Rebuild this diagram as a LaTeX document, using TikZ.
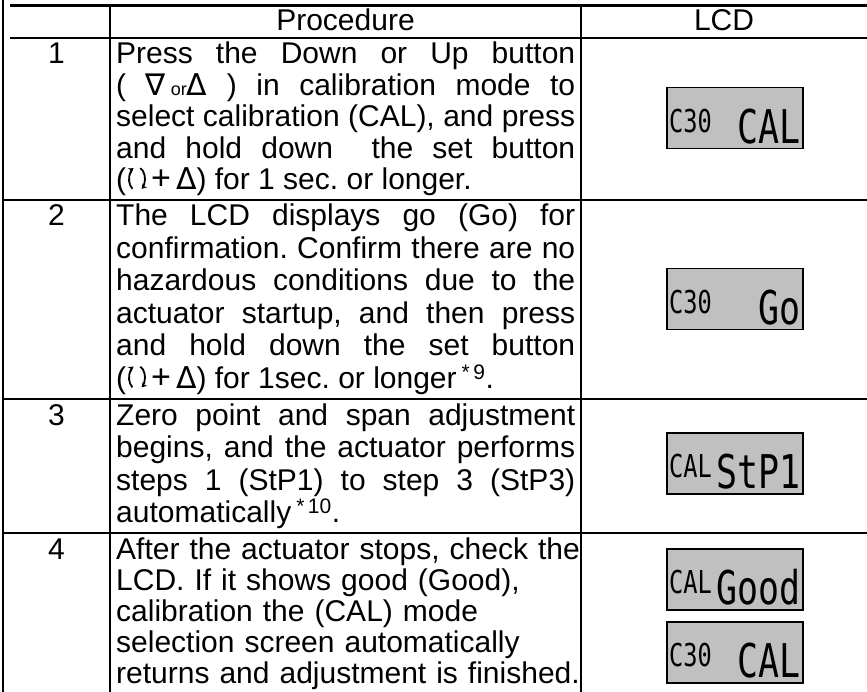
\documentclass[tikz,border=0pt]{standalone}
\usepackage{fontspec}
\setmainfont{Liberation Sans}
\newfontfamily\symfont{DejaVu Sans}
\newfontfamily\lcdfont[FakeStretch=0.75]{DejaVu Sans Mono}
\usepackage{tikz}
\usetikzlibrary{arrows.meta}
\frenchspacing
\definecolor{lcdgray}{RGB}{192,192,192}
\newcommand{\setgap}{\hspace{20pt}}
\newcommand{\updelta}{{\symfont Δ}}
\newcommand{\downnabla}{{\symfont ∇}}
\newcommand{\plusbtn}{\,{\fontsize{34}{30}\selectfont +}\,}
\tikzset{
    rule/.style={draw=black, line width=2.2pt},
    stepno/.style={anchor=base, inner sep=0pt, font=\fontsize{30}{32}\selectfont},
    procedure/.style={anchor=base west, inner sep=0pt, text width=459pt,
        align=justify, font=\fontsize{30}{32}\selectfont},
    lcd/.style={draw=black, line width=1.5pt, fill=lcdgray, anchor=north west,
        minimum width=136pt, minimum height=61pt, inner sep=0pt},
    lcdsmall/.style={anchor=base west, inner sep=0pt,
        font=\lcdfont\fontsize{31.5}{31.5}\selectfont},
    lcdbig/.style={anchor=base east, inner sep=0pt,
        font=\lcdfont\fontsize{46.5}{46.5}\selectfont},
    setbutton/.pic={
        \draw[line width=1.8pt, -{Stealth[length=5pt, width=6pt]}]
          (235:8pt and 12pt) arc[start angle=235, end angle=115, x radius=8pt, y radius=12pt];
        \draw[line width=1.8pt, -{Stealth[length=5pt, width=6pt]}]
          (65:8pt and 12pt) arc[start angle=65, end angle=-55, x radius=8pt, y radius=12pt];
    }
}

\begin{document}
\begin{tikzpicture}[x=1pt, y=-1pt]
\useasboundingbox (0,0) rectangle (867,692);

% table rules
\draw[style={rule}] (3,0) -- (3,692);
\draw[style={rule}] (110,5.5) -- (110,692);
\draw[style={rule}] (581,5.5) -- (581,692);
\draw[style={rule}] (10,5.5) -- (867,5.5);
\draw[style={rule}] (10,38) -- (867,38);
\foreach \y in {200,399,533}
  \draw[style={rule}] (3,\y) -- (867,\y);

% header
\node[style={stepno}] (headproc) at (345.5,31) {Procedure};
\node[style={stepno}] (headlcd) at (724,31) {LCD};

% step 1
\node[style={stepno}] (no1) at (56.5,64) {1};
\node[style={procedure}, font=\fontsize{30}{31.5}\selectfont] (proc1) at (116,64)
  {Press the Down or Up button\linebreak
   ( \downnabla\,{\fontsize{18}{20}\selectfont or}\updelta\ ) in calibration mode to\linebreak
   select calibration (CAL), and press\linebreak
   and hold down\ \ the set button\linebreak
   (\setgap\plusbtn\updelta) for 1 sec. or longer.};
\pic at (137,179) {setbutton};

% step 2
\node[style={stepno}] (no2) at (56.5,226) {2};
\node[style={procedure}, font=\fontsize{30}{32.5}\selectfont] (proc2) at (116,226)
  {The LCD displays go (Go) for\linebreak
   confirmation. Confirm there are no\linebreak
   hazardous conditions due to the\linebreak
   actuator startup, and then press\linebreak
   and hold down the set button\linebreak
   (\setgap\plusbtn\updelta) for 1sec. or longer\,\textsuperscript{*\,9}.};
\pic at (137,377.5) {setbutton};

% step 3
\node[style={stepno}] (no3) at (56.5,425) {3};
\node[style={procedure}, font=\fontsize{30}{32.5}\selectfont] (proc3) at (116,425)
  {Zero point and span adjustment\linebreak
   begins, and the actuator performs\linebreak
   steps 1 (StP1) to step 3 (StP3)\linebreak
   automatically\,\textsuperscript{*\,10}.};

% step 4
\node[style={stepno}] (no4) at (56.5,559) {4};
\node[style={procedure}, text width=470pt, align=left, font=\fontsize{30}{31}\selectfont]
  (proc4) at (116,559)
  {After the actuator stops, check the\\
   LCD. If it shows good (Good),\\
   calibration the (CAL) mode\\
   selection screen automatically\\
   returns and adjustment is finished.};

% LCD screens
\foreach \i/\top/\mode/\show in {1/87/C30/CAL, 2/268/C30/Go, 3/432/CAL/StP1,
                                 4/548/CAL/Good, 5/621/C30/CAL} {
  \node[style={lcd}] (lcd\i) at (666,\top) {};
  \node[style={lcdsmall}] (lcd\i mode) at ([shift={(3,14.5)}]lcd\i.west) {\mode};
  \node[style={lcdbig}] (lcd\i show) at ([shift={(-3,25.5)}]lcd\i.east) {\show};
}
\end{tikzpicture}
\end{document}
